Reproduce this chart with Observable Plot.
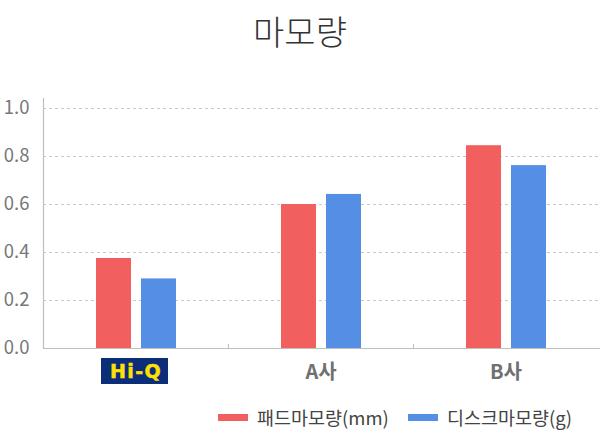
<!DOCTYPE html>
<html>
<head>
<meta charset="utf-8">
<script src="https://cdn.jsdelivr.net/npm/d3@7"></script>
<script src="https://cdn.jsdelivr.net/npm/@observablehq/plot@0.6"></script>
<style>
  body { margin: 0; background: #fff; width: 600px; height: 430px; overflow: hidden; font-family: "Noto Sans CJK KR", sans-serif; }
  #title { height: 80px; text-align: center; font-size: 34px; font-weight: 300; color: #333; line-height: 62px; }
  #legend { display: flex; align-items: center; height: 30px; padding-left: 218px; padding-top: 2px; font-size: 18.5px; color: #444; }
  .sw { width: 30px; height: 7px; margin-right: 9px; }
  .lab { margin-right: 19px; white-space: nowrap; }
</style>
</head>
<body>
<div id="title">마모량</div>
<div id="chart"></div>
<div id="legend"></div>
<script>
const categories = ["Hi-Q", "A사", "B사"];
const padWear = [0.375, 0.60, 0.845];   // 패드마모량(mm)
const discWear = [0.29, 0.642, 0.762];  // 디스크마모량(g)
const yTicks = [0, 0.2, 0.4, 0.6, 0.8, 1.0];
const seriesNames = ["패드마모량(mm)", "디스크마모량(g)"];
const seriesColors = ["#F25F5F", "#558EE5"];

const data = categories.map((c, i) => ({cat: c, pad: padWear[i], disc: discWear[i]}));

const chart = Plot.plot({
  width: 600,
  height: 320,
  marginTop: 18,
  marginBottom: 52,
  marginLeft: 43,
  marginRight: 2,
  style: {fontFamily: "'Noto Sans CJK KR', sans-serif", background: "#fff"},
  x: {domain: categories, padding: 0, label: null},
  y: {domain: [0, 1.0417], label: null},
  marks: [
    Plot.ruleY(yTicks.filter(d => d > 0), {stroke: "#c8c8c8", strokeDasharray: "3,3", insetRight: -2}),
    Plot.barY(data, {x: "cat", y: "pad", fill: seriesColors[0], insetLeft: 53, insetRight: 97}),
    Plot.barY(data, {x: "cat", y: "disc", fill: seriesColors[1], insetLeft: 98, insetRight: 52}),
    Plot.ruleY([0], {stroke: "#bdbdbd", strokeWidth: 1.2, insetRight: -2}),
    Plot.ruleX([categories[0]], {x: d => d, dx: -92.5, y1: 0, y2: 1.0417, stroke: "#bdbdbd", strokeWidth: 1.2}),
    Plot.ruleX(categories.slice(1), {x: d => d, dx: -92.5, y1: 0, y2: 0.017, stroke: "#bdbdbd"}),
    Plot.axisY({ticks: yTicks, tickFormat: d3.format(".1f"), tickSize: 0, tickPadding: 14, fontSize: 18.5, fill: "#777"}),
    Plot.axisX({tickSize: 0, tickPadding: 16, fontSize: 20, fontWeight: "bold", fill: "#707070"})
  ]
});
document.getElementById("chart").appendChild(chart);

// style the Hi-Q logo label
chart.querySelectorAll("text").forEach(t => {
  if (t.textContent === "Hi-Q") {
    t.setAttribute("fill", "#FFE000");
    t.setAttribute("stroke", "#FFE000");
    t.setAttribute("stroke-width", "0.5");
    t.style.fontFamily = "'DejaVu Sans', sans-serif";
    t.style.fontWeight = "bold";
    t.style.fontSize = "19px";
    t.style.letterSpacing = "1.4px";
    const bb = t.getBBox();
    const cx = bb.x + bb.width / 2 - 1, cy = bb.y + bb.height / 2;
    const r = document.createElementNS("http://www.w3.org/2000/svg", "rect");
    r.setAttribute("x", cx - 34);
    r.setAttribute("y", cy - 13);
    r.setAttribute("width", 67);
    r.setAttribute("height", 26);
    r.setAttribute("fill", "#0B2D7A");
    const tr = t.getAttribute("transform");
    if (tr) r.setAttribute("transform", tr);
    t.parentNode.insertBefore(r, t);
  }
});

const legend = document.getElementById("legend");
seriesNames.forEach((n, i) => {
  const sw = document.createElement("div");
  sw.className = "sw";
  sw.style.background = seriesColors[i];
  const lb = document.createElement("span");
  lb.className = "lab";
  lb.textContent = n;
  legend.appendChild(sw);
  legend.appendChild(lb);
});
</script>
</body>
</html>
